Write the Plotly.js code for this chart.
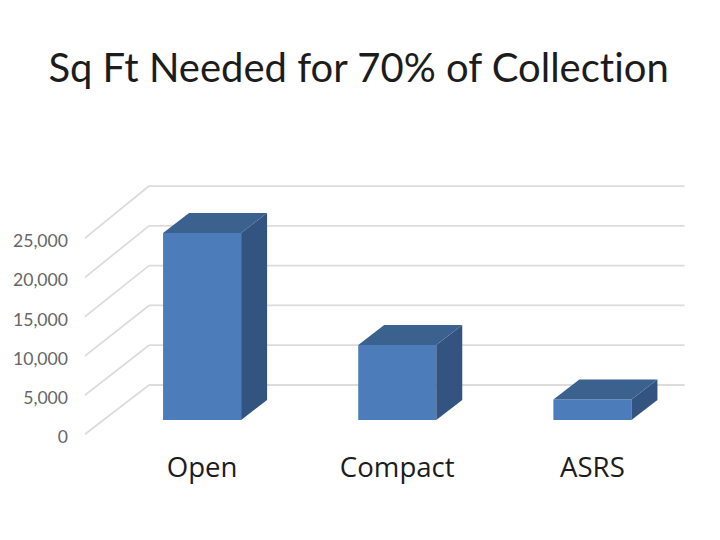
<!DOCTYPE html>
<html><head><meta charset="utf-8">
<script src="https://cdn.plot.ly/plotly-3.0.1.min.js"></script>
<style>html,body{margin:0;padding:0;background:#fff} svg text{font-variant-ligatures:none;font-feature-settings:"liga" 0}</style></head>
<body><div id="chart" style="width:720px;height:540px"></div>
<script>
const categories = ["Open", "Compact", "ASRS"];
const positions = [0, 1, 2];
const sqFt = [23850, 9570, 2600];
const gridValues = [0, 5000, 10000, 15000, 20000, 25000];
const barBase = 1913;
const barHalf = 0.2;
const barDepthX = 0.133;
const barDepthY = 2551;
const wallDepthX = 0.333;
const wallDepthY = 6378;
const wallStretch = 1.015;
const wallLeft = -0.605;
const wallRight = 2.139;
const gridColor = "#dcdcdc";
const frontColor = "#4c7dba";
const sideColor = "#335480";
const topColor = "#3b618f";

const gridShapes = [];
gridValues.forEach(v => {
  const back = v*wallStretch + wallDepthY;
  gridShapes.push({type:"line", layer:"below", xref:"x", yref:"y", x0:wallLeft, y0:v, x1:wallLeft+wallDepthX, y1:back, line:{color:gridColor,width:1.8}});
  gridShapes.push({type:"line", layer:"below", xref:"x", yref:"y", x0:wallLeft+wallDepthX, y0:back, x1:wallRight+wallDepthX, y1:back, line:{color:gridColor,width:1.8}});
});

const traces = [{type:"bar", x:positions, y:sqFt, base:barBase, width:barHalf*2, marker:{color:frontColor}, showlegend:false}];
positions.forEach((p,i) => {
  const l=p-barHalf, r=p+barHalf, b=barBase, t=barBase+sqFt[i];
  traces.push({x:[r,r+barDepthX,r+barDepthX,r,r], y:[b,b+barDepthY,t+barDepthY,t,b], mode:"lines", fill:"toself",
    fillcolor:sideColor, line:{width:0,color:sideColor}, hoverinfo:"skip", showlegend:false, type:"scatter"});
  traces.push({x:[l,r,r+barDepthX,l+barDepthX,l], y:[t,t,t+barDepthY,t+barDepthY,t], mode:"lines", fill:"toself",
    fillcolor:topColor, line:{width:0,color:topColor}, hoverinfo:"skip", showlegend:false, type:"scatter"});
});

Plotly.newPlot("chart", traces, {
  width:720, height:540, paper_bgcolor:"#fff", plot_bgcolor:"#fff", showlegend:false,
  margin:{l:85,r:30,t:170,b:105},
  shapes:gridShapes,
  title:{text:"Sq Ft Needed for 70% of Collection", font:{family:"Lato, sans-serif",size:40,color:"#1c1c1c"}, x:0.498, xanchor:"center", y:0.875, yanchor:"middle"},
  xaxis:{range:[-0.6,2.5], tickmode:"array", tickvals:positions, ticktext:categories, showgrid:false, zeroline:false, showline:false,
    ticks:"", ticklabelstandoff:13, tickfont:{family:"Open Sans, sans-serif",size:27.6,color:"#1c1c1c"}},
  yaxis:{range:[0,33801], tickmode:"array", tickvals:gridValues, tickformat:",d", showgrid:false, zeroline:false, showline:false,
    ticks:"", ticklabelstandoff:16, ticklabelshift:2, tickfont:{family:"Lato, sans-serif",size:17.6,color:"#666666"}}
}, {displayModeBar:false, staticPlot:true});
</script></body></html>
